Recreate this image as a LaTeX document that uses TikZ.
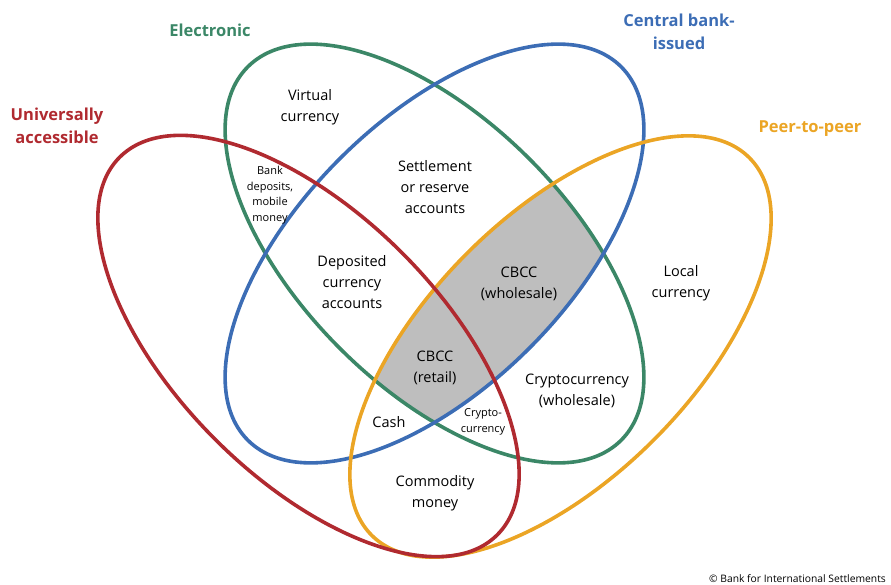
\documentclass[tikz,border=0pt]{standalone}
\usepackage{fontspec}
\setmainfont{Open Sans}
\definecolor{bisred}{HTML}{B02A30}
\definecolor{bisgreen}{HTML}{3B8767}
\definecolor{bisblue}{HTML}{3C6DB5}
\definecolor{bisorange}{HTML}{EBA525}
\definecolor{bisgrey}{HTML}{BEBEBE}

\begin{document}
\begin{tikzpicture}[x=1pt,y=-1pt,
		ring/.style={line width=3.6pt},
		area text/.style={align=center,inner sep=0pt,font=\fontsize{14.5}{21}\selectfont},
		small text/.style={align=center,inner sep=0pt,font=\fontsize{11}{15.7}\selectfont},
		set name/.style={align=center,inner sep=0pt,font=\fontsize{16.5}{23}\selectfont\bfseries}]
		\useasboundingbox (0,0) rectangle (891,585);
		\coordinate (Red c) at (308.5,346);
		\coordinate (Orange c) at (560.5,346.5);
		\coordinate (Mid c) at (434.5,253.5);
		% CBCC: blue and green and orange
		\begin{scope}
			\clip [rotate around={45:(Mid c)}] (Mid c) ellipse [x radius=264, y radius=134];
			\clip [rotate around={-45:(Mid c)}] (Mid c) ellipse [x radius=264, y radius=134];
			\fill [bisgrey, rotate around={45:(Orange c)}] (Orange c) ellipse [x radius=267, y radius=132];
		\end{scope}
		\draw [ring, bisgreen, rotate around={-45:(Mid c)}] (Mid c) ellipse [x radius=264, y radius=134];
		\draw [ring, bisblue, rotate around={45:(Mid c)}] (Mid c) ellipse [x radius=264, y radius=134];
		\draw [ring, bisorange, rotate around={45:(Orange c)}] (Orange c) ellipse [x radius=267, y radius=132];
		\draw [ring, bisred, rotate around={-45:(Red c)}] (Red c) ellipse [x radius=267, y radius=132];
		% set names
		\node [set name, bisgreen] (Electronic) at (210,30) {Electronic};
		\node [set name, bisblue] (Central bank) at (679,32) {Central bank-\\issued};
		\node [set name, bisorange] (Peer) at (810,129) {Peer-to-peer};
		\node [set name, bisred] (Universal) at (57,126) {Universally\\accessible};
		% areas
		\node [area text] (Virtual) at (310,107.5) {Virtual\\currency};
		\node [small text] (Bank deposits) at (270,195) {Bank\\deposits,\\mobile\\money};
		\node [area text] (Settlement) at (435,187.5) {Settlement\\or reserve\\accounts};
		\node [area text] (Deposited) at (352,282.5) {Deposited\\currency\\accounts};
		\node [area text] (CBCC w) at (519,283.5) {CBCC\\(wholesale)};
		\node [area text] (Local) at (681,283.5) {Local\\currency};
		\node [area text] (CBCC r) at (435,367.5) {CBCC\\(retail)};
		\node [area text] (Crypto w) at (577,390.5) {Cryptocurrency\\(wholesale)};
		\node [area text] (Cash) at (389,422) {Cash};
		\node [small text] (Crypto) at (483,422) {Crypto-\\currency};
		\node [area text] (Commodity) at (435,493.5) {Commodity\\money};
		\node [anchor=east, inner sep=0pt, font=\fontsize{10.3}{12}\selectfont] (Copyright) at (886,579) {© Bank for International Settlements};
	\end{tikzpicture}
\end{document}
